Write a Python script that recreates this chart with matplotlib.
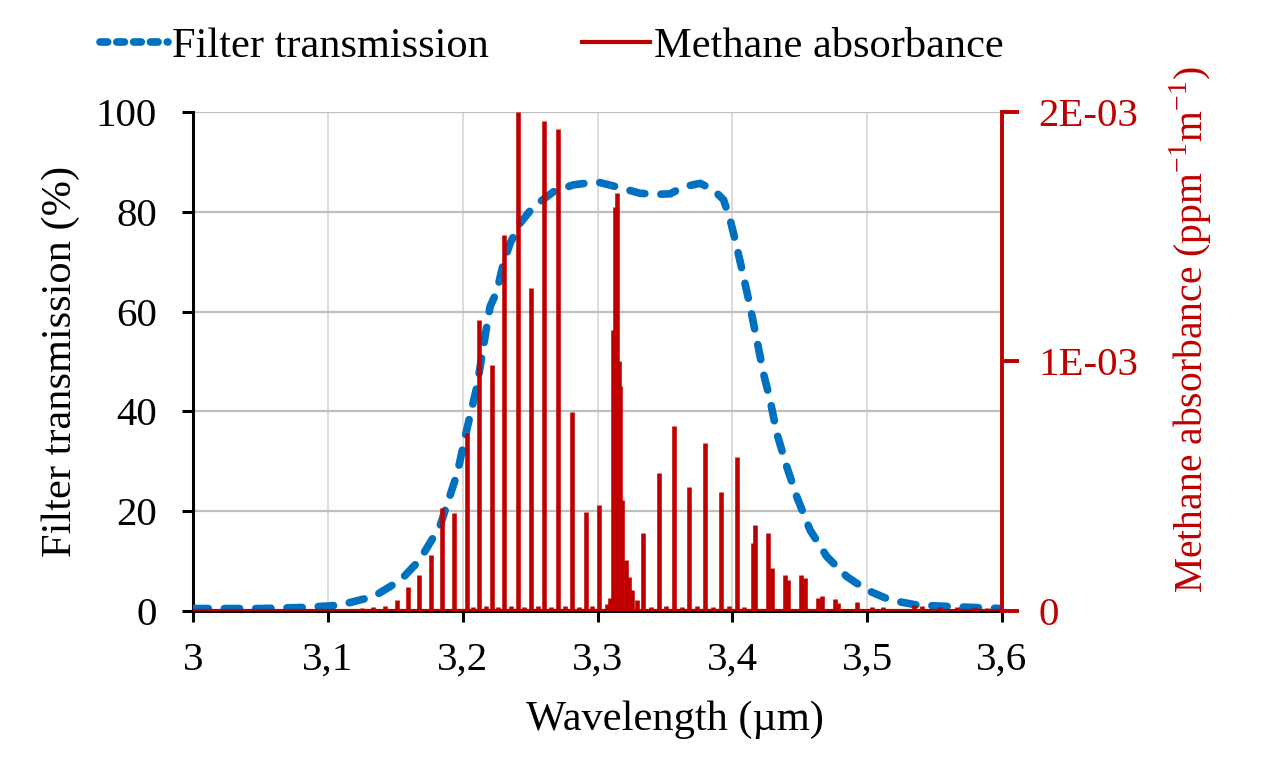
import matplotlib
matplotlib.use('Agg')
import matplotlib.pyplot as plt
from matplotlib.lines import Line2D

plt.rcParams['font.family'] = ['Liberation Serif', 'DejaVu Serif']
plt.rcParams['mathtext.fontset'] = 'custom'
plt.rcParams['mathtext.rm'] = 'Liberation Serif'

# filter transmission curve (%)
filtro_x = [3.000, 3.050, 3.080, 3.100, 3.109, 3.134, 3.154, 3.168, 3.183, 3.196,
            3.203, 3.2105, 3.2154, 3.2203, 3.2253, 3.2302, 3.2352, 3.2426, 3.2524, 3.2673,
            3.2821, 3.2995, 3.3143, 3.3316, 3.345, 3.3539, 3.3637, 3.3761, 3.3860, 3.3935,
            3.3984, 3.4033, 3.4083, 3.4132, 3.4182, 3.4231, 3.4280, 3.4330, 3.4404, 3.4478,
            3.4577, 3.4701, 3.4849, 3.4998, 3.5171, 3.5369, 3.5616, 3.5987]
filtro_y = [0.5, 0.5, 0.7, 1.0, 1.2, 2.9, 6.2, 10.2, 16.9, 27.6,
            36.3, 44.9, 53.0, 61.0, 64.0, 69.7, 73.7, 77.7, 81.0, 84.0,
            85.4, 86.0, 85.0, 83.7, 83.5, 83.6, 85.0, 85.7, 84.4, 82.4,
            78.4, 73.0, 67.0, 61.0, 54.3, 47.6, 42.3, 35.6, 28.9, 22.9,
            16.2, 10.9, 6.9, 4.2, 2.2, 1.2, 0.9, 0.5]

# methane absorption lines (um, ppm-1 m-1)
metano_x = [3.1165, 3.1251, 3.1338, 3.1424, 3.1510, 3.1593, 3.1677, 3.1763, 3.1849, 3.1938,
            3.2030, 3.2124, 3.2216, 3.2309, 3.2409, 3.2505, 3.2604, 3.2706, 3.2809, 3.2913,
            3.3014,
            3.3069, 3.3093, 3.3118, 3.3131, 3.3148, 3.3157, 3.3168, 3.3185, 3.3210, 3.3230,
            3.3254, 3.3292,
            3.3341, 3.3459, 3.3568, 3.3682, 3.3800, 3.3917, 3.4033, 3.4152, 3.4167, 3.4268,
            3.4293, 3.4392, 3.4416, 3.4510, 3.4540, 3.4639, 3.4664, 3.4763, 3.4787, 3.4924,
            3.5035, 3.5121, 3.5344, 3.5406, 3.5542, 3.5665, 3.5801, 3.5888,
            3.2075, 3.2170, 3.2260, 3.2355, 3.2455, 3.2555, 3.2655, 3.2760, 3.2860, 3.2960,
            3.3400, 3.3510, 3.3625, 3.3740, 3.3860, 3.3975, 3.4090]
metano_y = [7e-6, 1.1e-5, 1.7e-5, 2.2e-5, 4.4e-5, 9.7e-5, 1.44e-4, 2.24e-4, 4.13e-4, 3.93e-4,
            7.13e-4, 1.166e-3, 9.86e-4, 1.507e-3, 2.0e-3, 1.295e-3, 1.965e-3, 1.93e-3, 7.99e-4, 3.98e-4,
            4.25e-4,
            3e-5, 5.2e-5, 1.126e-3, 1.62e-3, 1.675e-3, 1.0e-3, 9.0e-4, 4.45e-4, 2.04e-4, 1.37e-4,
            8.4e-5, 4.4e-5,
            3.13e-4, 5.54e-4, 7.41e-4, 4.98e-4, 6.72e-4, 4.78e-4, 6.18e-4, 2.71e-4, 3.45e-4, 3.11e-4,
            1.72e-4, 1.44e-4, 1.24e-4, 1.44e-4, 1.31e-4, 5.1e-5, 6e-5, 4.7e-5, 3.3e-5, 3.7e-5,
            1.5e-5, 1.7e-5, 2.4e-5, 2e-5, 1.7e-5, 1.5e-5, 1.7e-5, 1.3e-5,
            1.5e-5, 2e-5, 1.5e-5, 2e-5, 1.5e-5, 2e-5, 1.5e-5, 2e-5, 1.5e-5, 2e-5,
            1.5e-5, 2e-5, 1.5e-5, 2e-5, 1.5e-5, 2e-5, 1.5e-5]

xticks = [3.0, 3.1, 3.2, 3.3, 3.4, 3.5, 3.6]
xtick_labels = ['3', '3,1', '3,2', '3,3', '3,4', '3,5', '3,6']
yticks = [0, 20, 40, 60, 80, 100]
y2ticks = [0, 1e-3, 2e-3]
y2tick_labels = ['0', '1E-03', '2E-03']

AZUL = '#0070C0'
VERMELHO = '#C00000'
FS_TICK = 29.5
FS = 30.5

fig = plt.figure(figsize=(12.8, 7.68), dpi=100)
ax = fig.add_axes([0.1508, 0.2044, 0.6320, 0.6498])
ax2 = ax.twinx()

# curva do filtro
ax.plot(filtro_x, filtro_y, color=AZUL, lw=5.5, dashes=(2.0, 2.1),
        dash_capstyle='round', zorder=3)
ax.set_xlim(3.0, 3.6)
ax.set_ylim(0, 100)
ax.set_xticks(xticks)
ax.set_xticklabels(xtick_labels)
ax.set_yticks(yticks)
ax.grid(axis='y', color='#bfbfbf', lw=1.6)
ax.grid(axis='x', color='#d9d9d9', lw=1.3)
ax.set_axisbelow(True)
for s in ['top', 'right']:
    ax.spines[s].set_visible(False)
ax.spines['left'].set_linewidth(2.2)
ax.spines['bottom'].set_linewidth(2.2)
ax.tick_params(axis='both', labelsize=FS_TICK, width=2.2, length=8, color='black')
ax.tick_params(axis='y', pad=18)
ax.tick_params(axis='x', pad=14)
ax.set_ylabel('Filter transmission (%)', fontsize=FS)
ax.yaxis.set_label_coords(-0.14, 0.5)
ax.set_xlabel('Wavelength (µm)', fontsize=FS)
ax.xaxis.set_label_coords(0.596, -0.18)

# linhas do metano
ax2.vlines(metano_x, 0, metano_y, color=VERMELHO, lw=3.3)
ax2.plot([3.0, 3.6], [0, 0], color=VERMELHO, lw=3.0)
ax2.set_ylim(0, 2e-3)
ax2.set_yticks(y2ticks)
ax2.set_yticklabels(y2tick_labels)
for s in ['top', 'left', 'bottom']:
    ax2.spines[s].set_visible(False)
ax2.spines['right'].set_color(VERMELHO)
ax2.spines['right'].set_linewidth(2.8)
ax2.tick_params(axis='y', labelsize=FS_TICK, labelcolor=VERMELHO, color=VERMELHO,
                width=2.8, length=12, pad=14)
ax2.set_ylabel('Methane absorbance (ppm$^{\\mathregular{-1}}$m$^{\\mathregular{-1}}$)',
               fontsize=28.5, color=VERMELHO)
ax2.yaxis.set_label_coords(1.205, 0.563)

handles = [Line2D([], [], color=AZUL, lw=5.5, dashes=(1.0, 1.2), dash_capstyle='round'),
           Line2D([], [], color=VERMELHO, lw=3.0)]
fig.legend(handles, ['Filter transmission', 'Methane absorbance'], loc='center',
           bbox_to_anchor=(0.431, 0.939), ncol=2, frameon=False, fontsize=FS,
           handlelength=1.6, handletextpad=0.1, columnspacing=2.2)

fig.savefig('out.png', dpi=100)
